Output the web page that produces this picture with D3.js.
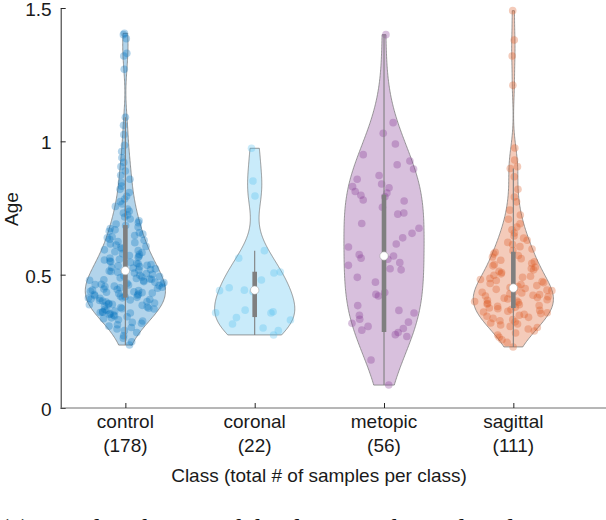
<!DOCTYPE html>
<html><head><meta charset="utf-8">
<script src="https://cdn.jsdelivr.net/npm/d3@7"></script>
<style>html,body{margin:0;padding:0;background:#fff;overflow:hidden;width:606px;height:520px}svg{display:block}</style>
</head><body>
<svg id="chart" width="606" height="520"></svg>
<script>
const categories = ["control","coronal","metopic","sagittal"];
const counts = [178,22,56,111];
const colors = ["#0072bd","#4dbeee","#7e2f8e","#d95319"];
const yTicks = [0,0.5,1,1.5];

const controlAges = [0.236,0.248,
0.262,0.271,0.283,0.29,0.296,
0.302,0.307,0.312,0.318,0.321,0.326,0.331,0.335,0.338,0.342,0.345,0.349,
0.351,0.353,0.356,0.358,0.3595,0.361,0.364,0.366,0.369,0.371,0.3725,0.374,0.377,0.379,0.382,0.385,0.387,0.3885,0.39,0.392,0.394,0.397,0.399,
0.401,0.403,0.405,0.407,0.409,0.411,0.4125,0.413,0.415,0.417,0.419,0.421,0.423,0.425,0.427,0.429,0.431,0.4325,0.434,0.436,0.438,0.44,0.442,0.444,0.446,0.449,
0.451,0.453,0.455,0.457,0.459,0.461,0.4625,0.464,0.466,0.468,0.47,0.472,0.474,0.477,0.479,0.481,0.4825,0.484,0.486,0.488,0.491,0.493,0.495,0.498,
0.501,0.504,0.506,0.509,0.512,0.514,0.517,0.519,0.522,0.525,0.527,0.53,0.533,0.535,0.538,0.541,0.543,0.546,0.548,
0.551,0.555,0.558,0.562,0.565,0.569,0.572,0.576,0.579,0.583,0.586,0.59,0.593,0.597,
0.602,0.606,0.611,0.615,0.62,0.624,0.629,0.633,0.638,0.642,0.647,
0.652,0.657,0.663,0.668,0.673,0.679,0.684,0.69,0.695,
0.702,0.709,0.716,0.724,0.731,0.738,0.746,
0.756,0.765,0.774,0.784,0.794,
0.808,0.82,0.832,0.845,
0.858,0.873,0.889,
0.905,0.921,0.938,
0.962,0.985,
1.025,1.06,1.09,
1.27,1.32,1.33,1.385,1.40,1.405];

const coronalAges = [0.274,0.29,0.30,0.315,0.33,0.339,0.356,0.357,0.361,0.367,0.436,0.44,0.442,0.451,0.48,0.506,0.51,0.562,0.59,0.795,0.851,0.974];

const metopicAges = [0.086,0.18,
0.268,0.275,0.283,0.292,0.298,
0.306,0.318,0.322,0.333,0.348,
0.356,0.366,0.384,
0.42,0.426,0.433,
0.472,0.49,
0.518,0.522,0.535,0.545,
0.558,0.562,0.57,0.575,
0.604,0.615,0.638,
0.655,0.674,0.692,
0.727,0.731,0.753,
0.776,0.78,0.792,0.798,
0.806,0.812,0.826,0.83,0.84,
0.858,0.872,0.896,0.912,0.926,0.95,0.99,1.03,1.07,1.40];

const sagittalAges = [0.229,0.246,
0.256,0.265,0.274,0.281,0.289,0.296,
0.302,0.306,0.311,0.315,0.319,0.323,0.327,0.332,0.336,0.34,0.344,0.348,
0.351,0.354,0.357,0.36,0.363,0.366,0.369,0.372,0.375,0.378,0.381,0.384,0.387,0.39,0.393,0.396,0.399,
0.401,0.404,0.406,0.409,0.412,0.414,0.417,0.42,0.423,0.425,0.428,0.431,0.434,0.437,0.44,0.442,0.445,0.448,
0.452,0.455,0.459,0.463,0.467,0.47,0.474,0.478,0.482,0.486,0.49,0.494,0.498,
0.503,0.508,0.513,0.518,0.523,0.528,0.533,0.538,0.543,0.548,
0.554,0.56,0.566,0.572,0.578,0.584,0.59,0.596,
0.605,0.613,0.621,0.629,0.637,0.645,
0.656,0.668,0.679,0.691,
0.708,0.724,0.742,
0.773,0.791,0.82,0.867,0.898,0.905,0.93,0.975,
1.21,1.32,1.38,1.49];

const medians = [0.515,0.442,0.570,0.450];
const q1s = [0.414,0.341,0.285,0.375];
const q3s = [0.686,0.511,0.800,0.586];

const allData = [controlAges, coronalAges, metopicAges, sagittalAges];

const svg = d3.select("#chart");
const y = d3.scaleLinear().domain([0,1.5]).range([408,8]);
const x = d3.scaleLinear().domain([0.5,4.5]).range([60.7,578]);
const violinWidth = 0.31;
const font = "'Liberation Sans', Arial, Helvetica, sans-serif";

function kde(data){
  const n = data.length;
  const med = d3.median(data);
  const mad = d3.median(data, d => Math.abs(d - med));
  const sig = mad / 0.6745;
  const bw = sig * Math.pow(4/(3*n), 0.2);
  const lo = d3.min(data), hi = d3.max(data);
  const m = 240;
  const pts = [];
  for (let i = 0; i <= m; i++){
    const v = lo + (hi - lo) * i / m;
    let s = 0;
    for (const d of data){ const u = (v - d)/bw; s += Math.exp(-0.5*u*u); }
    pts.push([v, s/(n*bw*Math.sqrt(2*Math.PI))]);
  }
  const mx = d3.max(pts, p => p[1]);
  return pts.map(p => [p[0], p[1]/mx]);
}
function hash(i,k){
  const s = Math.sin(i*12.9898 + k*78.233 + 1.7) * 43758.5453;
  return (s - Math.floor(s))*2 - 1;
}

allData.forEach((data, k) => {
  const pos = k + 1;
  const dens = kde(data);
  const hw = d => x(pos + violinWidth*d) - x(pos);
  const area = d3.area()
    .y(p => y(p[0]))
    .x0(p => x(pos) - hw(p[1]))
    .x1(p => x(pos) + hw(p[1]))
    .curve(d3.curveLinear);
  const g = svg.append("g");
  g.append("path").datum(dens).attr("d", area)
    .attr("fill", colors[k]).attr("fill-opacity", 0.3)
    .attr("stroke", "#7f7f7f").attr("stroke-width", 0.8);

  const interp = v => {
    const lo = dens[0][0], hi = dens[dens.length-1][0];
    if (hi === lo) return dens[0][1];
    const t = (v - lo)/(hi - lo)*(dens.length-1);
    const i0 = Math.max(0, Math.min(dens.length-2, Math.floor(t)));
    const f = t - i0;
    return dens[i0][1]*(1-f) + dens[i0+1][1]*f;
  };
  g.selectAll("circle.pt").data(data).join("circle").attr("class","pt")
    .attr("cx", (d,i) => x(pos) + hash(i,k)*hw(interp(d)))
    .attr("cy", d => y(d))
    .attr("r", 3.8)
    .attr("fill", colors[k]).attr("fill-opacity", 0.3);

  // whiskers
  const iqr = q3s[k] - q1s[k];
  const wLo = d3.min(data.filter(d => d > q1s[k] - 1.5*iqr));
  const wHi = d3.max(data.filter(d => d < q3s[k] + 1.5*iqr));
  g.append("line").attr("x1", x(pos)).attr("x2", x(pos))
    .attr("y1", y(wLo)).attr("y2", y(wHi))
    .attr("stroke", "#7f7f7f").attr("stroke-width", 1.1);
  g.append("rect").attr("x", x(pos) - 2.3).attr("width", 4.6)
    .attr("y", y(q3s[k])).attr("height", y(q1s[k]) - y(q3s[k]))
    .attr("fill", "#7f7f7f");
  g.append("circle").attr("cx", x(pos)).attr("cy", y(medians[k])).attr("r", 4.2)
    .attr("fill", "#fff").attr("stroke", "#9a9a9a").attr("stroke-width", 0.5);
});

// axes
const yAxis = d3.axisLeft(y).tickValues(yTicks).tickSizeInner(-5).tickSizeOuter(0)
  .tickPadding(9).tickFormat(d => String(d));
const ya = svg.append("g").attr("transform","translate(60.7,0)").call(yAxis);
ya.select(".domain").attr("stroke","#262626");
ya.selectAll(".tick line").attr("stroke","#262626");
ya.selectAll("text").attr("font-family", font).attr("font-size", 19).attr("fill","#1a1a1a").attr("dy","0.4em");

svg.append("line").attr("x1",60.7).attr("x2",606).attr("y1",408).attr("y2",408)
  .attr("stroke","#6e6e6e").attr("stroke-width",1);
const xAxis = d3.axisBottom(x).tickValues([1,2,3,4]).tickSizeInner(-5).tickSizeOuter(0).tickFormat("");
const xa = svg.append("g").attr("transform","translate(0,408)").call(xAxis);
xa.select(".domain").remove();
xa.selectAll(".tick line").attr("stroke","#262626");

categories.forEach((c,k) => {
  const t = svg.append("text").attr("x", x(k+1)).attr("text-anchor","middle")
    .attr("font-family", font).attr("font-size", 19).attr("fill","#1a1a1a");
  t.append("tspan").attr("x", x(k+1)).attr("y", 428).text(c);
  t.append("tspan").attr("x", x(k+1)).attr("y", 452).text("(" + counts[k] + ")");
});

svg.append("text").attr("x", 319).attr("y", 482).attr("text-anchor","middle")
  .attr("font-family", font).attr("font-size", 19).attr("fill","#1a1a1a")
  .text("Class (total # of samples per class)");

svg.append("text").attr("transform","translate(18,209) rotate(-90)").attr("text-anchor","middle")
  .attr("font-family", font).attr("font-size", 19).attr("fill","#1a1a1a").text("Age");

// caption line of the source figure, clipped by the bottom edge
svg.append("text").attr("x", 0).attr("y", 538)
  .attr("font-family", "'Liberation Serif', 'DejaVu Serif', serif").attr("font-size", 27).attr("fill","#111")
  .text("(a) Age distribution of the dataset. The violin plots");
</script>
</body></html>
